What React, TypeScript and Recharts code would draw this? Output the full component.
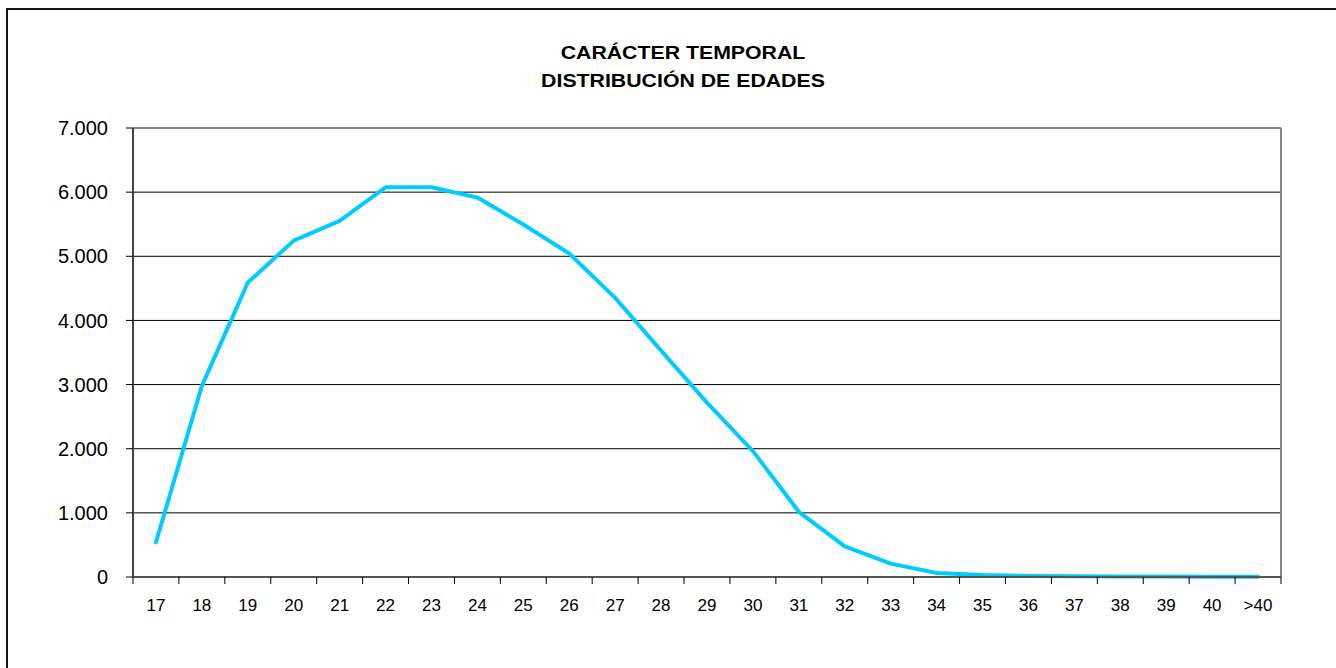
import { LineChart, Line, XAxis, YAxis, CartesianGrid, ReferenceLine } from "recharts";

const ages = ["17", "18", "19", "20", "21", "22", "23", "24", "25", "26", "27", "28", "29", "30", "31", "32", "33", "34", "35", "36", "37", "38", "39", "40", ">40"];
const counts = [539, 2980, 4590, 5244, 5551, 6076, 6076, 5915, 5496, 5044, 4352, 3530, 2719, 1963, 1016, 478, 209, 63, 30, 15, 10, 8, 6, 5, 5];
const yTicks = [0, 1000, 2000, 3000, 4000, 5000, 6000, 7000];
const titleLines = ["CARÁCTER TEMPORAL", "DISTRIBUCIÓN DE EDADES"];

const data = ages.map((age, i) => ({ age, idx: i, count: counts[i] }));
// tick marks sit on the category boundaries, like the spreadsheet original
const boundaries = ages.map((_, i) => i - 0.5).concat(ages.length - 0.5);

const font = "'Liberation Sans', Arial, sans-serif";

const fmt = (v: number) => String(v).replace(/\B(?=(\d{3})+(?!\d))/g, ".");

const NoLabel = () => <g />;

export default function App() {
  return (
    <div
      style={{
        position: "absolute",
        left: 6,
        top: 8,
        width: 1345,
        height: 680,
        border: "2px solid #111",
        boxSizing: "border-box",
        background: "#fff",
        fontFamily: font,
      }}
    >
      <div
        style={{
          position: "absolute",
          left: 0,
          top: 29,
          width: 1350,
          textAlign: "center",
          fontWeight: "bold",
          fontSize: 19,
          lineHeight: "27.5px",
          color: "#000",
          transform: "scaleX(1.12)",
          transformOrigin: "675px 0",
        }}
      >
        {titleLines.map((t) => (
          <div key={t}>{t}</div>
        ))}
      </div>
      <div style={{ position: "absolute", left: 0, top: 0 }}>
        <LineChart width={1330} height={660} data={data} margin={{ top: 118, right: 57, bottom: 62, left: 0 }}>
          <CartesianGrid xAxisId="a" horizontal vertical={false} stroke="#000" />
          {/* age labels, centred in each category band */}
          <XAxis
            xAxisId="b"
            dataKey="age"
            scale="band"
            interval={0}
            height={30}
            axisLine={false}
            tickLine={false}
            tickSize={0}
            tickMargin={21}
            tick={{ fill: "#000", fontSize: 17, fontFamily: font }}
          />
          {/* boundary tick marks only; height must be > 0 or the axis is not drawn */}
          <XAxis
            xAxisId="a"
            type="number"
            dataKey="idx"
            domain={[-0.5, ages.length - 0.5]}
            ticks={boundaries}
            interval={0}
            tick={NoLabel}
            height={1}
            tickSize={7}
            axisLine={{ stroke: "#555", strokeWidth: 2 }}
            tickLine={{ stroke: "#000" }}
          />
          <YAxis
            domain={[0, 7000]}
            ticks={yTicks}
            interval={0}
            width={125}
            tickSize={7}
            tickMargin={18}
            tickFormatter={fmt}
            tick={{ fill: "#000", fontSize: 20, fontFamily: font }}
            axisLine={{ stroke: "#444", strokeWidth: 2 }}
            tickLine={{ stroke: "#000" }}
          />
          <ReferenceLine xAxisId="a" y={7000} stroke="#888" strokeWidth={2} />
          <ReferenceLine xAxisId="a" x={ages.length - 0.5} stroke="#888" strokeWidth={2} />
          <Line
            xAxisId="a"
            type="linear"
            dataKey="count"
            stroke="#00CCFF"
            strokeWidth={4}
            strokeLinecap="round"
            strokeLinejoin="round"
            dot={false}
            isAnimationActive={false}
          />
        </LineChart>
      </div>
    </div>
  );
}
